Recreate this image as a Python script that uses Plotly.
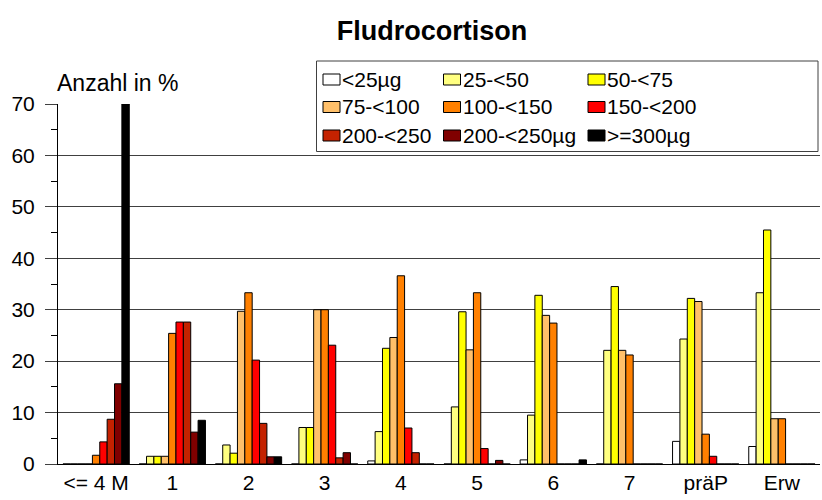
import plotly.graph_objects as go

categories = ["<= 4 M", "1", "2", "3", "4", "5", "6", "7", "präP", "Erw"]
series_names = ["<25µg", "25-<50", "50-<75", "75-<100", "100-<150", "150-<200",
                "200-<250", "200-<250µg", ">=300µg"]
colors = ["#FFFFFF", "#FFFF80", "#FFFF00", "#FFC06A", "#FF8000", "#FF0000",
          "#C42200", "#800000", "#000000"]

v_lt25 = [0, 0, 0, 0, 0.6, 0, 0.8, 0, 4.4, 3.4]
v_25_50 = [0, 1.5, 3.7, 7.1, 6.3, 11.1, 9.5, 22.1, 24.3, 33.3]
v_50_75 = [0, 1.5, 2.1, 7.1, 22.5, 29.6, 32.8, 34.5, 32.2, 45.5]
v_75_100 = [0, 1.5, 29.7, 30.0, 24.6, 22.2, 28.9, 22.1, 31.6, 8.8]
v_100_150 = [1.7, 25.4, 33.3, 30.0, 36.6, 33.3, 27.4, 21.2, 5.8, 8.8]
v_150_200 = [4.3, 27.6, 20.2, 23.1, 7.0, 3.0, 0, 0, 1.5, 0]
v_200_250 = [8.7, 27.6, 7.9, 1.2, 2.2, 0, 0, 0, 0, 0]
v_200_250ug = [15.6, 6.2, 1.4, 2.2, 0, 0.7, 0, 0, 0, 0]
v_ge300 = [70, 8.5, 1.4, 0, 0, 0, 0.8, 0, 0, 0]

series_values = [v_lt25, v_25_50, v_50_75, v_75_100, v_100_150, v_150_200,
                 v_200_250, v_200_250ug, v_ge300]

W, H = 822, 500
L, R, T, B = 58, 2, 104, 36
pw, ph = W - L - R, H - T - B
FONT = "Arial, Liberation Sans, sans-serif"

fig = go.Figure()
for name, col, vals in zip(series_names, colors, series_values):
    fig.add_trace(go.Bar(x=categories, y=vals, name=name,
                         marker=dict(color=col, line=dict(color="black", width=1)),
                         showlegend=False))

def px2x(px):
    return (px - L) / pw

def py2y(py):
    return (H - B - py) / ph

shapes = []
annotations = []
# legend box
shapes.append(dict(type="rect", xref="paper", yref="paper",
                   x0=px2x(316.5), x1=px2x(818), y0=py2y(61), y1=py2y(151.5),
                   fillcolor="white", line=dict(color="#404040", width=1), layer="above"))
col_x = [323, 443.5, 588]
row_y = [79.5, 107, 135.5]
for i, (name, col) in enumerate(zip(series_names, colors)):
    r, c = divmod(i, 3)
    x0 = col_x[c]
    yc = row_y[r]
    shapes.append(dict(type="rect", xref="paper", yref="paper",
                       x0=px2x(x0), x1=px2x(x0 + 17), y0=py2y(yc + 5.5), y1=py2y(yc - 5.5),
                       fillcolor=col, line=dict(color="black", width=1), layer="above"))
    annotations.append(dict(text=name, xref="paper", yref="paper",
                            x=px2x(x0 + 17), y=py2y(yc), xanchor="left", yanchor="middle",
                            showarrow=False, font=dict(family=FONT, size=21, color="black")))

annotations.append(dict(text="Anzahl in %", xref="paper", yref="paper",
                        x=px2x(55), y=py2y(83), xanchor="left", yanchor="middle",
                        showarrow=False, font=dict(family=FONT, size=23, color="black")))

fig.update_layout(
    width=W, height=H,
    margin=dict(l=L, r=R, t=T, b=B),
    paper_bgcolor="white", plot_bgcolor="white",
    title=dict(text="<b>Fludrocortison</b>", x=432 / W, xanchor="center",
               y=1 - 31 / H, yanchor="middle",
               font=dict(family=FONT, size=27, color="black")),
    barmode="group", bargap=0.13, bargroupgap=0,
    shapes=shapes, annotations=annotations,
    font=dict(family=FONT, size=21, color="black"),
)
fig.update_yaxes(range=[0, 70], dtick=10, showgrid=True, gridcolor="#404040", gridwidth=1,
                 showline=True, linecolor="black", linewidth=1,
                 ticks="outside", ticklen=12, tickcolor="#404040",
                 ticklabelstandoff=6,
                 minor=dict(dtick=5, ticks="outside", ticklen=6, tickcolor="black", showgrid=False),
                 tickfont=dict(family=FONT, size=21, color="black"),
                 zeroline=False)
fig.update_xaxes(showline=True, linecolor="black", linewidth=1, ticks="",
                 tickfont=dict(family=FONT, size=21, color="black"),
                 showgrid=False)

fig.write_html("out.html")
